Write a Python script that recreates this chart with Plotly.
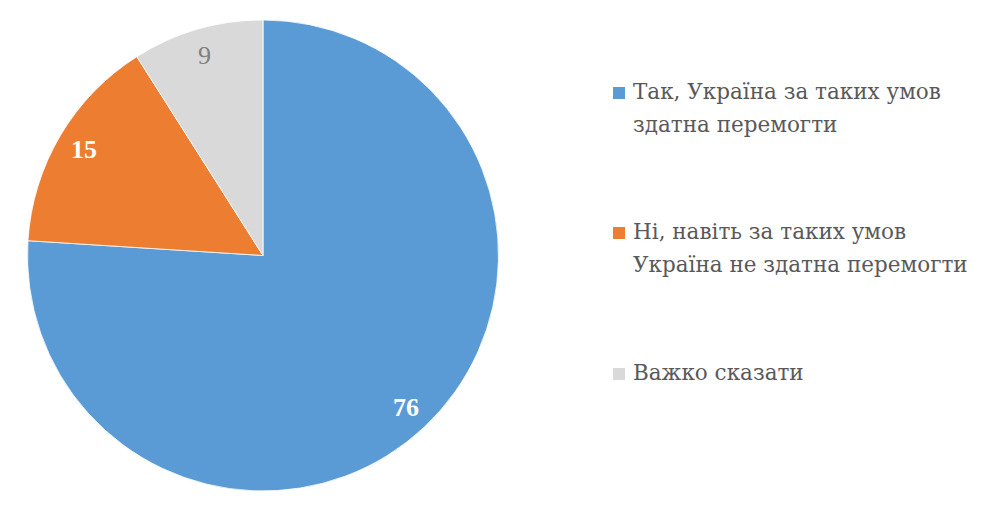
import math
import plotly.graph_objects as go

# survey answers (percent)
labels = ["Так, Україна за таких умов<br>здатна перемогти",
          "Ні, навіть за таких умов<br>Україна не здатна перемогти",
          "Важко сказати"]
values = [76, 15, 9]
colors = ["#5B9BD5", "#ED7D31", "#D9D9D9"]
label_colors = ["white", "white", "#7F7F7F"]
label_bold = [True, True, False]

W, H = 1000, 511
OFF = 8  # page body margin shifts the figure
num_font = "Liberation Serif"
leg_font = "DejaVu Serif"  # Liberation Serif here has no Cyrillic

# pie placement in (figure) pixels
cx, cy, R = 263 - OFF, 255.5 - OFF, 235.5

fig = go.Figure(go.Pie(
    labels=labels,
    values=values,
    sort=False,
    direction="clockwise",
    rotation=0,
    marker=dict(colors=colors, line=dict(color="white", width=0.8)),
    textinfo="none",
    hoverinfo="label+value",
    showlegend=False,
    domain=dict(x=[(cx - R) / W, (cx + R) / W], y=[1 - (cy + R) / H, 1 - (cy - R) / H]),
))

# data labels at mid-angle of each slice, like Excel's default
total = sum(values)
cum = 0
for v, c, b in zip(values, label_colors, label_bold):
    mid = (cum + v / 2) / total * 2 * math.pi
    cum += v
    r = 0.885 * R
    px_ = cx + r * math.sin(mid)
    py_ = cy - r * math.cos(mid)
    txt = f"<b>{v}</b>" if b else str(v)
    fig.add_annotation(x=px_ / W, y=1 - py_ / H, xref="paper", yref="paper",
                       text=txt, showarrow=False, xanchor="center", yanchor="middle",
                       font=dict(family=num_font, size=26, color=c))

# hand-made legend to keep Excel-like spacing
leg_y = [93 - OFF, 233 - OFF, 374 - OFF]
line_gap = 33
for lab, col, y in zip(labels, colors, leg_y):
    fig.add_shape(type="rect", xref="paper", yref="paper",
                  x0=(613 - OFF) / W, x1=(625 - OFF) / W, y0=1 - (y + 6) / H, y1=1 - (y - 6) / H,
                  fillcolor=col, line=dict(width=0))
    for i, part in enumerate(lab.split("<br>")):
        fig.add_annotation(x=(631 - OFF) / W, y=1 - (y + i * line_gap - 2) / H,
                           xref="paper", yref="paper",
                           text=part, showarrow=False, xanchor="left", yanchor="middle",
                           align="left", font=dict(family=leg_font, size=21.5, color="#595959"))

fig.update_layout(
    width=W, height=H,
    margin=dict(l=0, r=0, t=0, b=0),
    paper_bgcolor="white",
    plot_bgcolor="white",
)

fig.write_html("out.html")
